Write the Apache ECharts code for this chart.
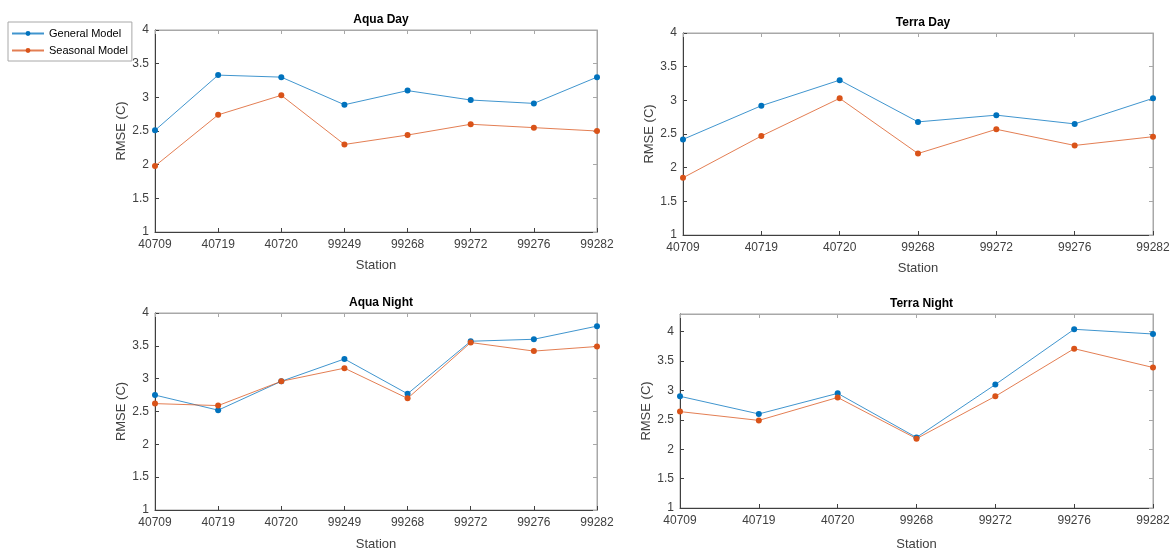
<!DOCTYPE html>
<html>
<head>
<meta charset="utf-8">
<script src="https://cdn.jsdelivr.net/npm/echarts@6/dist/echarts.min.js"></script>
<style>
html, body { margin: 0; padding: 0; background: #fff; }
#chart { width: 1173px; height: 552px; }
</style>
</head>
<body>
<div id="chart"></div>
<script>
// stations
var aquaStations = ['40709', '40719', '40720', '99249', '99268', '99272', '99276', '99282'];
var terraStations = ['40709', '40719', '40720', '99268', '99272', '99276', '99282'];

// RMSE values
var aquaDayGeneral = [2.51, 3.33, 3.30, 2.89, 3.10, 2.96, 2.91, 3.30];
var aquaDaySeasonal = [1.98, 2.74, 3.03, 2.30, 2.44, 2.60, 2.55, 2.50];
var terraDayGeneral = [2.42, 2.92, 3.30, 2.68, 2.78, 2.65, 3.03];
var terraDaySeasonal = [1.85, 2.47, 3.03, 2.21, 2.57, 2.33, 2.46];
var aquaNightGeneral = [2.75, 2.52, 2.96, 3.30, 2.77, 3.57, 3.60, 3.80];
var aquaNightSeasonal = [2.62, 2.59, 2.96, 3.16, 2.70, 3.55, 3.42, 3.49];
var terraNightGeneral = [2.90, 2.60, 2.95, 2.20, 3.10, 4.04, 3.96];
var terraNightSeasonal = [2.64, 2.49, 2.88, 2.18, 2.90, 3.71, 3.39];

var blue = '#0072BD';
var orange = '#D95319';
var font = 'Liberation Sans, Arial, Helvetica, sans-serif';

var panels = [
	{ title: 'Aqua Day', cats: aquaStations, g: aquaDayGeneral, s: aquaDaySeasonal, left: 155, top: 30, width: 442, height: 202, max: 4, xGap: 27 },
	{ title: 'Terra Day', cats: terraStations, g: terraDayGeneral, s: terraDaySeasonal, left: 683, top: 33, width: 470, height: 202, max: 4, xGap: 27 },
	{ title: 'Aqua Night', cats: aquaStations, g: aquaNightGeneral, s: aquaNightSeasonal, left: 155, top: 313, width: 442, height: 201, max: 4, xGap: 28 },
	{ title: 'Terra Night', cats: terraStations, g: terraNightGeneral, s: terraNightSeasonal, left: 680, top: 314, width: 473, height: 202, max: 4.3, xGap: 30 }
];

var grids = [], xAxes = [], yAxes = [], series = [], titles = [];

for (var i = 0; i < panels.length; i++) {
	var p = panels[i];
	grids.push({ left: p.left, top: p.top, width: p.width, height: p.height, show: true, borderColor: '#a8a8a8', borderWidth: 1, backgroundColor: '#fff' });
	titles.push({
		text: p.title, left: p.left + p.width / 2, top: p.top - 21, textAlign: 'center',
		textStyle: { fontFamily: font, fontSize: 12, fontWeight: 'bold', color: '#000' }
	});
	// bottom x axis
	xAxes.push({
		type: 'category', gridIndex: i, data: p.cats, boundaryGap: false,
		name: 'Station', nameLocation: 'middle', nameGap: p.xGap,
		nameTextStyle: { fontFamily: font, fontSize: 13, color: '#404040' },
		axisLine: { lineStyle: { color: '#404040', width: 1 } },
		axisTick: { inside: true, length: 4, lineStyle: { color: '#404040' } },
		axisLabel: { fontFamily: font, fontSize: 12, color: '#404040', margin: 7 },
		splitLine: { show: false }
	});
	// top x axis, ticks only
	xAxes.push({
		type: 'category', gridIndex: i, data: p.cats, boundaryGap: false, position: 'top',
		axisLine: { lineStyle: { color: '#a8a8a8' } },
		axisTick: { inside: true, length: 4, lineStyle: { color: '#a8a8a8' } },
		axisLabel: { show: false }, splitLine: { show: false }
	});
	yAxes.push({
		type: 'value', gridIndex: i, min: 1, max: p.max, interval: 0.5,
		name: 'RMSE (C)', nameLocation: 'middle', nameGap: 26,
		nameTextStyle: { fontFamily: font, fontSize: 13, color: '#404040' },
		axisLine: { show: true, lineStyle: { color: '#404040', width: 1 } },
		axisTick: { show: true, inside: true, length: 4, lineStyle: { color: '#404040' } },
		axisLabel: { fontFamily: font, fontSize: 12, color: '#404040', margin: 6, showMaxLabel: p.max == 4 },
		splitLine: { show: false }
	});
	yAxes.push({
		type: 'value', gridIndex: i, min: 1, max: p.max, interval: 0.5, position: 'right',
		axisLine: { show: true, lineStyle: { color: '#a8a8a8' } },
		axisTick: { show: true, inside: true, length: 4, lineStyle: { color: '#a8a8a8' } },
		axisLabel: { show: false }, splitLine: { show: false }
	});
	series.push({
		name: 'General Model', type: 'line', xAxisIndex: i * 2, yAxisIndex: i * 2, data: p.g,
		symbol: 'circle', symbolSize: 6, color: blue,
		lineStyle: { width: 1, color: blue, opacity: 0.75 }, itemStyle: { color: blue },
		animation: false
	});
	series.push({
		name: 'Seasonal Model', type: 'line', xAxisIndex: i * 2, yAxisIndex: i * 2, data: p.s,
		symbol: 'circle', symbolSize: 6, color: orange,
		lineStyle: { width: 1, color: orange, opacity: 0.75 }, itemStyle: { color: orange },
		animation: false
	});
}

var myChart = echarts.init(document.getElementById('chart'));
myChart.setOption({
	backgroundColor: '#fff',
	animation: false,
	title: titles,
	legend: {
		data: ['General Model', 'Seasonal Model'],
		orient: 'vertical', left: 8, top: 22,
		itemWidth: 32, itemHeight: 6, itemGap: 6,
		padding: [6, 4, 5, 3],
		borderColor: '#a8a8a8', borderWidth: 1, backgroundColor: '#fff',
		textStyle: { fontFamily: font, fontSize: 11, color: '#000' }
	},
	grid: grids,
	xAxis: xAxes,
	yAxis: yAxes,
	series: series
});
</script>
</body>
</html>
